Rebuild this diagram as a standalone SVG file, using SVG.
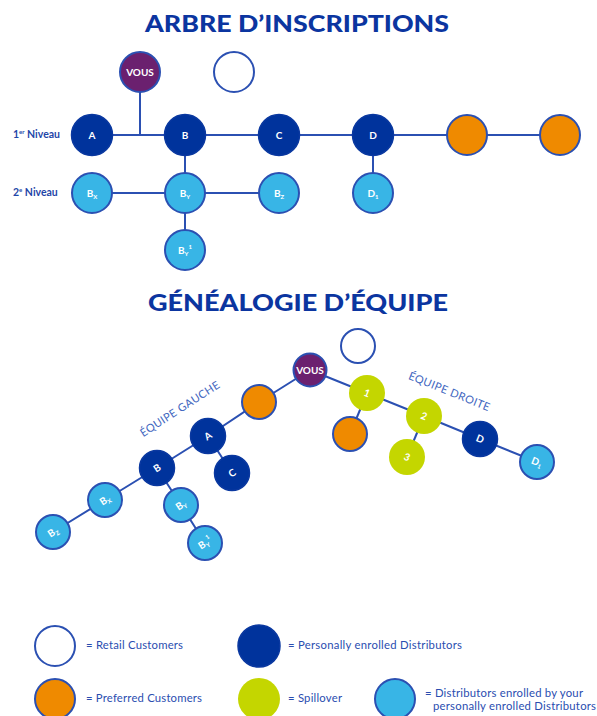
<svg xmlns="http://www.w3.org/2000/svg" width="597" height="716" viewBox="0 0 597 716">
<style>
.title{font-family:"Lato","Liberation Sans",sans-serif;font-weight:900;font-size:23px;fill:#0b35a0;text-anchor:middle}
.lvl{font-family:"Lato","Liberation Sans",sans-serif;font-weight:700;font-size:10.5px;fill:#1f46a8}
.lab{font-family:"Lato","Liberation Sans",sans-serif;font-weight:700;font-size:10px;fill:#ffffff;text-anchor:middle}
.sub{font-size:6px}
.team{font-family:"Lato","Liberation Sans",sans-serif;font-size:11px;fill:#4266c0;text-anchor:middle;letter-spacing:0.4px}
.leg{font-family:"Lato","Liberation Sans",sans-serif;font-size:11.3px;fill:#2a4db0}
.ln{stroke:#2b50b2;stroke-width:2;fill:none}
.ret{fill:#ffffff;stroke:#2b50b2;stroke-width:2}
.pur{fill:#6b206f;stroke:#2b50b2;stroke-width:2}
.dk{fill:#00339c;stroke:#0a38a0;stroke-width:1.5}
.lt{fill:#38b5e6;stroke:#2b50b2;stroke-width:2}
.or{fill:#ef8a00;stroke:#2b50b2;stroke-width:2}
.ye{fill:#c4d600}
</style>
<text class="title" x="297" y="32" textLength="304" lengthAdjust="spacingAndGlyphs">ARBRE D’INSCRIPTIONS</text>
<text class="title" x="298" y="311" textLength="300" lengthAdjust="spacingAndGlyphs">GÉNÉALOGIE D’ÉQUIPE</text>
<g id="levels">
<text class="lvl" x="13" y="138">1<tspan font-size="6" dy="-4">er</tspan><tspan dy="4"> Niveau</tspan></text>
<text class="lvl" x="13" y="196">2<tspan font-size="6" dy="-4">e</tspan><tspan dy="4"> Niveau</tspan></text>
</g>
<g id="connectors">
<line class="ln" x1="140" y1="92" x2="140" y2="135"/>
<line class="ln" x1="92" y1="135" x2="560" y2="135"/>
<line class="ln" x1="185" y1="135" x2="185" y2="250"/>
<line class="ln" x1="92" y1="193" x2="279" y2="193"/>
<line class="ln" x1="373" y1="135" x2="373" y2="193"/>
<polyline class="ln" points="310,370 259,402 208,436 157,468 105,500 53,532"/>
<line class="ln" x1="208" y1="436" x2="232" y2="473"/>
<polyline class="ln" points="157,468 181,505 205,543"/>
<polyline class="ln" points="310,370 367,393 424,416 480,439 537,462"/>
<line class="ln" x1="367" y1="393" x2="350" y2="434"/>
<line class="ln" x1="424" y1="416" x2="407" y2="457"/>
</g>
<g id="vous1"><circle class="pur" cx="140" cy="72" r="20"/><text class="lab" x="140" y="76" font-size="9">VOUS</text></g>
<g id="retail1"><circle class="ret" cx="234" cy="72" r="20"/></g>
<g id="A1"><circle class="dk" cx="92" cy="135" r="20.5"/><text class="lab" x="92" y="139">A</text></g>
<g id="B1"><circle class="dk" cx="185" cy="135" r="20.5"/><text class="lab" x="185" y="139">B</text></g>
<g id="C1"><circle class="dk" cx="279" cy="135" r="20.5"/><text class="lab" x="279" y="139">C</text></g>
<g id="D1top"><circle class="dk" cx="373" cy="135" r="20.5"/><text class="lab" x="373" y="139">D</text></g>
<g id="pc1"><circle class="or" cx="467" cy="135" r="20"/></g>
<g id="pc2"><circle class="or" cx="560" cy="135" r="20"/></g>
<g id="Bx1"><circle class="lt" cx="92" cy="193" r="20"/><text class="lab" x="92" y="197">B<tspan class="sub" dy="2">X</tspan></text></g>
<g id="By1"><circle class="lt" cx="185" cy="193" r="20"/><text class="lab" x="185" y="197">B<tspan class="sub" dy="2">Y</tspan></text></g>
<g id="Bz1"><circle class="lt" cx="279" cy="193" r="20"/><text class="lab" x="279" y="197">B<tspan class="sub" dy="2">Z</tspan></text></g>
<g id="Dsub1"><circle class="lt" cx="373" cy="193" r="20"/><text class="lab" x="373" y="197">D<tspan class="sub" dy="2">1</tspan></text></g>
<g id="By1b"><circle class="lt" cx="185" cy="250" r="20"/><text class="lab" x="185" y="254">B<tspan class="sub" dy="2">Y</tspan><tspan class="sub" dy="-7">1</tspan></text></g>

<g id="gauche"><text class="team" transform="translate(182,412) rotate(-33)">ÉQUIPE GAUCHE</text></g>
<g id="droite"><text class="team" transform="translate(448,395) rotate(22)">ÉQUIPE DROITE</text></g>
<g id="vous2"><circle class="pur" cx="310" cy="370" r="16.5"/><text class="lab" x="310" y="374" font-size="9.5">VOUS</text></g>
<g id="retail2"><circle class="ret" cx="358" cy="346" r="17"/></g>
<g id="pcL"><circle class="or" cx="259" cy="402" r="17"/></g>
<g id="A2"><circle class="dk" cx="208" cy="436" r="17.5"/><text class="lab" transform="translate(208,436) rotate(-33)" y="3.5" font-size="9">A</text></g>
<g id="C2"><circle class="dk" cx="232" cy="473" r="17.5"/><text class="lab" transform="translate(232,473) rotate(-33)" y="3.5" font-size="9">C</text></g>
<g id="B2"><circle class="dk" cx="157" cy="468" r="17.5"/><text class="lab" transform="translate(157,468) rotate(-33)" y="3.5" font-size="9">B</text></g>
<g id="Bx2"><circle class="lt" cx="105" cy="500" r="17"/><text class="lab" transform="translate(105,500) rotate(-33)" y="3.5" font-size="9">B<tspan class="sub" dy="2">X</tspan></text></g>
<g id="Bz2"><circle class="lt" cx="53" cy="532" r="17"/><text class="lab" transform="translate(53,532) rotate(-33)" y="3.5" font-size="9">B<tspan class="sub" dy="2">Z</tspan></text></g>
<g id="By2"><circle class="lt" cx="181" cy="505" r="17"/><text class="lab" transform="translate(181,505) rotate(-33)" y="3.5" font-size="9">B<tspan class="sub" dy="2">Y</tspan></text></g>
<g id="By12"><circle class="lt" cx="205" cy="543" r="17"/><text class="lab" transform="translate(205,543) rotate(-33)" y="3.5" font-size="9">B<tspan class="sub" dy="2">Y</tspan><tspan class="sub" dy="-7">1</tspan></text></g>
<g id="s1"><circle class="ye" cx="367" cy="393" r="18"/><text class="lab" transform="translate(367,393) rotate(22)" y="3.5" font-size="9">1</text></g>
<g id="pcR"><circle class="or" cx="350" cy="434" r="17"/></g>
<g id="s2"><circle class="ye" cx="424" cy="416" r="18"/><text class="lab" transform="translate(424,416) rotate(22)" y="3.5" font-size="9">2</text></g>
<g id="s3"><circle class="ye" cx="407" cy="457" r="18"/><text class="lab" transform="translate(407,457) rotate(22)" y="3.5" font-size="9">3</text></g>
<g id="D2"><circle class="dk" cx="480" cy="439" r="17.5"/><text class="lab" transform="translate(480,439) rotate(22)" y="3.5" font-size="9">D</text></g>
<g id="Dsub2"><circle class="lt" cx="537" cy="462" r="17"/><text class="lab" transform="translate(537,462) rotate(22)" y="3.5" font-size="9">D<tspan class="sub" dy="2">1</tspan></text></g>

<g id="legend">
<circle class="ret" cx="55" cy="646" r="20"/><text class="leg" x="86" y="649" textLength="97">= Retail Customers</text>
<circle class="dk" cx="259" cy="646" r="21"/><text class="leg" x="288" y="649" textLength="174">= Personally enrolled Distributors</text>
<circle class="or" cx="55" cy="699" r="20"/><text class="leg" x="86" y="702" textLength="116">= Preferred Customers</text>
<circle class="ye" cx="259" cy="699" r="21"/><text class="leg" x="288" y="702" textLength="54">= Spillover</text>
<circle class="lt" cx="395" cy="699" r="20"/><text class="leg" x="425" y="697" textLength="158">= Distributors enrolled by your</text><text class="leg" x="433" y="710" textLength="163">personally enrolled Distributors</text>
</g>
</svg>
